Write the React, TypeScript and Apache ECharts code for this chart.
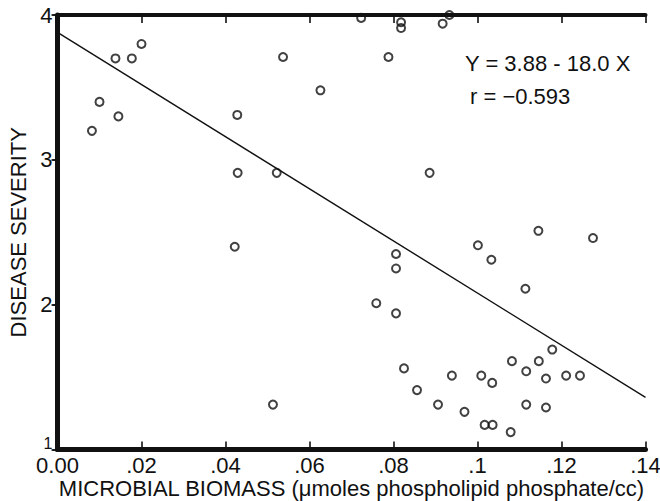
import React, { useEffect, useRef } from "react";
import * as echarts from "echarts";

const xTickLabels = ["0.00", ".02", ".04", ".06", ".08", ".1", ".12", ".14"];
const yTickLabels = ["1", "2", "3", "4"];

const biomass = [
  0.02, 0.0138, 0.0177, 0.01, 0.0145, 0.0082, 0.0537, 0.0626, 0.0428, 0.0429,
  0.0522, 0.0422, 0.0723, 0.0818, 0.0818, 0.0917, 0.0933, 0.0788, 0.0886, 0.1145,
  0.1275, 0.1001, 0.0806, 0.0806, 0.1033, 0.1114, 0.0759, 0.0806, 0.1178, 0.1082,
  0.1146, 0.1116, 0.0825, 0.0939, 0.1009, 0.1035, 0.1163, 0.1211, 0.1244, 0.0856,
  0.0906, 0.0969, 0.1116, 0.1163, 0.1017, 0.1036, 0.1079, 0.0513,
];
const severity = [
  3.8, 3.7, 3.7, 3.4, 3.3, 3.2, 3.71, 3.48, 3.31, 2.91,
  2.91, 2.4, 3.98, 3.95, 3.91, 3.94, 4.0, 3.71, 2.91, 2.51,
  2.46, 2.41, 2.35, 2.25, 2.31, 2.11, 2.01, 1.94, 1.69, 1.61,
  1.61, 1.54, 1.56, 1.51, 1.51, 1.46, 1.49, 1.51, 1.51, 1.41,
  1.31, 1.26, 1.31, 1.29, 1.17, 1.17, 1.12, 1.31,
];
const regressionX = [0, 0.14];
const regressionY = [3.88, 1.36];
const equationText = "Y = 3.88 - 18.0 X";
const rText = "r = −0.593";
const xTitle = "MICROBIAL BIOMASS (μmoles phospholipid phosphate/cc)";
const yTitle = "DISEASE SEVERITY";

const FONT = "'Liberation Sans', Arial, sans-serif";

export default function App() {
  const ref = useRef<HTMLDivElement>(null);
  useEffect(() => {
    if (!ref.current) return;
    const chart = echarts.init(ref.current, undefined, { renderer: "svg" });
    const pts = biomass.map((x, i) => [x, severity[i]]);
    const line = regressionX.map((x, i) => [x, regressionY[i]]);
    const xFmt = (v: number) => xTickLabels[Math.round(v / 0.02)] ?? "";
    const yFmt = (v: number) => {
      const s = yTickLabels[Math.round(v) - 1] ?? "";
      return Math.round(v) === 1 ? `{low|${s}}` : s;
    };
    chart.setOption({
      animation: false,
      backgroundColor: "#fff",
      grid: {
        left: 57.5,
        right: 14.5,
        top: 15,
        bottom: 51.5,
        containLabel: false,
        outerBoundsMode: "none",
      },
      xAxis: [
        {
          type: "value",
          position: "bottom",
          min: 0,
          max: 0.14,
          interval: 0.02,
          splitLine: { show: false },
          axisLine: { show: true, lineStyle: { color: "#111", width: 5 } },
          axisTick: { show: true, inside: true, length: 8, lineStyle: { color: "#111", width: 1.6 } },
          axisLabel: { formatter: xFmt, color: "#111", fontSize: 22, fontFamily: FONT, margin: 5 },
          name: xTitle,
          nameLocation: "middle",
          nameGap: 28,
          nameMoveOverlap: false,
          nameTextStyle: {
            color: "#111",
            fontSize: 22,
            lineHeight: 22,
            fontFamily: FONT,
            verticalAlign: "top",
          },
          z: 5,
        },
        {
          type: "value",
          position: "top",
          min: 0,
          max: 0.14,
          interval: 0.02,
          splitLine: { show: false },
          axisLine: { show: true, lineStyle: { color: "#111", width: 4 } },
          axisTick: { show: true, inside: true, length: 8, lineStyle: { color: "#111", width: 1.6 } },
          axisLabel: { show: false },
          z: 5,
        },
      ],
      yAxis: [
        {
          type: "value",
          position: "left",
          min: 1,
          max: 4,
          interval: 1,
          splitLine: { show: false },
          axisLine: { show: true, lineStyle: { color: "#111", width: 5 } },
          axisTick: { show: true, inside: false, length: 5, lineStyle: { color: "#111", width: 1.6 } },
          axisLabel: {
            formatter: yFmt,
            color: "#111",
            fontSize: 22,
            fontFamily: FONT,
            margin: 5,
            rich: {
              low: { fontSize: 16, fontFamily: FONT, color: "#111", padding: [0, 0, 12, 0] },
            },
          },
          name: yTitle,
          nameLocation: "middle",
          nameGap: 28,
          nameMoveOverlap: false,
          nameTextStyle: { color: "#111", fontSize: 22, fontFamily: FONT },
          z: 5,
        },
        {
          type: "value",
          position: "right",
          min: 1,
          max: 4,
          interval: 1,
          splitLine: { show: false },
          axisLine: { show: true, lineStyle: { color: "#111", width: 4 } },
          axisTick: { show: true, inside: true, length: 6, lineStyle: { color: "#111", width: 1.6 } },
          axisLabel: { show: false },
          z: 5,
        },
      ],
      series: [
        {
          type: "line",
          data: line,
          xAxisIndex: 0,
          yAxisIndex: 0,
          showSymbol: false,
          symbol: "none",
          lineStyle: { color: "#111", width: 1.4 },
          z: 2,
        },
        {
          type: "scatter",
          data: pts,
          xAxisIndex: 0,
          yAxisIndex: 0,
          symbol: "circle",
          symbolSize: 8,
          clip: false,
          itemStyle: { color: "rgba(0,0,0,0)", borderColor: "#111", borderWidth: 2 },
          z: 3,
        },
      ],
      graphic: [
        {
          type: "text",
          left: 465,
          top: 52,
          style: { text: equationText, fill: "#111", fontSize: 22, fontFamily: FONT },
        },
        {
          type: "text",
          left: 470,
          top: 85,
          style: { text: rText, fill: "#111", fontSize: 22, fontFamily: FONT },
        },
      ],
    });
    return () => chart.dispose();
  }, []);
  return (
    <div
      ref={ref}
      style={{ position: "fixed", left: 0, top: 0, width: 660, height: 501, background: "#fff" }}
    />
  );
}
